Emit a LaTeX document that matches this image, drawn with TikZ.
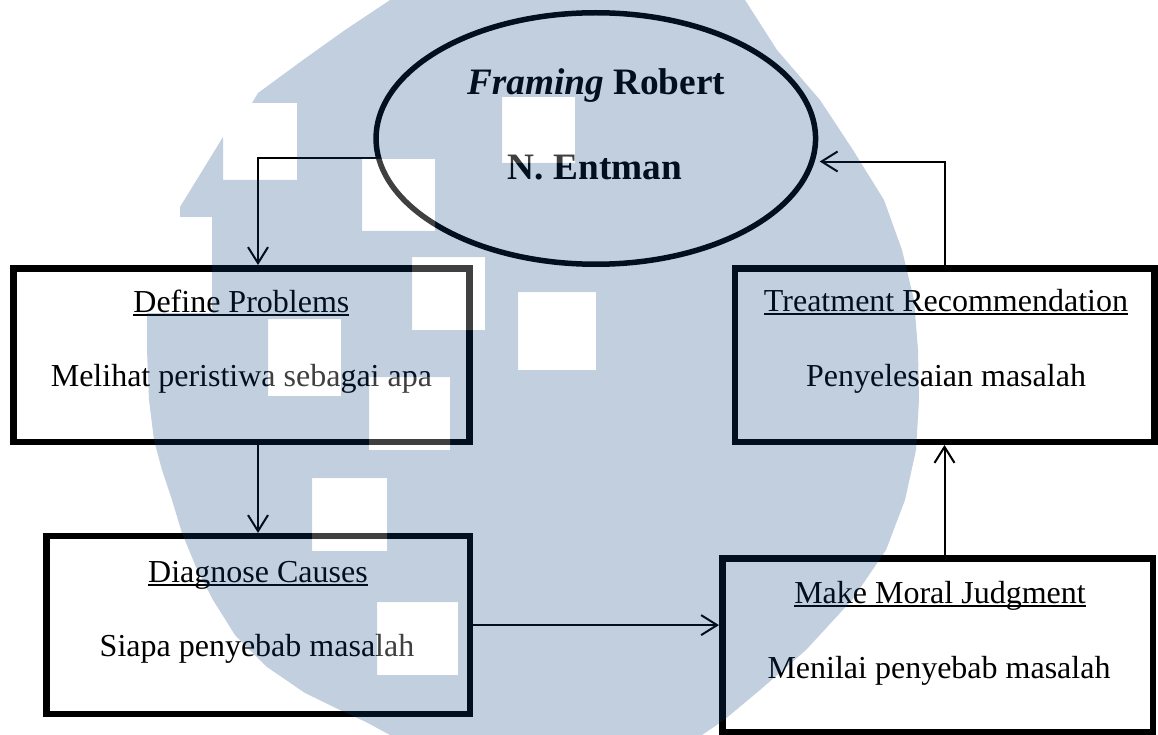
\documentclass[tikz,border=0pt]{standalone}
\usepackage{fontspec}
\setmainfont{Liberation Serif}
\usetikzlibrary{arrows.meta,shapes.geometric,positioning}
\definecolor{wmblue}{RGB}{7,63,123}
\newsavebox\undersave
\newcommand\undertext[1]{\sbox\undersave{#1}\rlap{\rule[-3.5pt]{\wd\undersave}{2pt}}\usebox\undersave}
\tikzset{
>={Straight Barb[length=16pt,width=20pt]},
  frame/.style={
    ellipse,
    draw, line width=5.5pt,
    minimum width=439.5pt,
    minimum height=251.5pt,
    inner sep=0pt},
  stage/.style={
    rectangle,
    draw, line width=6.5pt,
    inner sep=0pt},
  frametext/.style={anchor=base, inner sep=0pt, font=\fontsize{37.3}{44}\selectfont\bfseries},
  stagetext/.style={anchor=base, inner sep=0pt, font=\fontsize{32}{38}\selectfont},
  line/.style={draw, line width=2pt, ->},
  watermark/.style={fill=wmblue, opacity=0.25, even odd rule},
}
\begin{document}
\begin{tikzpicture}[x=1pt,y=-1pt]
	\useasboundingbox (0,0) rectangle (1158,735);

	% framing model
	\node [frame] (entman) at (595.8,138.5) {};
	\node [frametext] (entmanA) at (596,95) {\textit{Framing} Robert};
	\node [frametext] (entmanB) at (595,180) {N. Entman};

	% the four functions
	\node [stage, minimum width=456.2pt, minimum height=173.5pt] (define) at (241.4,355) {};
	\node [stagetext] (defineA) at (241.4,312) {\undertext{Define Problems}};
	\node [stagetext] (defineB) at (241.4,386) {Melihat peristiwa sebagai apa};

	\node [stage, minimum width=423.5pt, minimum height=177.8pt] (diagnose) at (258,625.1) {};
	\node [stagetext] (diagnoseA) at (258,582) {\undertext{Diagnose Causes}};
	\node [stagetext] (diagnoseB) at (257,656) {Siapa penyebab masalah};

	\node [stage, minimum width=430.5pt, minimum height=173.5pt] (moral) at (937.5,645) {};
	\node [stagetext] (moralA) at (940,603) {\undertext{Make Moral Judgment}};
	\node [stagetext] (moralB) at (939,678) {Menilai penyebab masalah};

	\node [stage, minimum width=419.5pt, minimum height=173.5pt] (treatment) at (944.5,355) {};
	\node [stagetext] (treatmentA) at (946,311) {\undertext{Treatment Recommendation}};
	\node [stagetext] (treatmentB) at (946,386) {Penyelesaian masalah};

	% connectors
	\path [line] (entman.185.6) -| (define.north -| diagnose.north);
	\path [line] (define.south -| diagnose.north) -- (diagnose.north);
	\path [line] (diagnose.east) -- (diagnose.east -| moral.west);
	\path [line] (moral.north -| treatment.south) -- (treatment.south);
	\path [line, shorten >=5pt] (treatment.north) |- (entman.354.4);

	% watermark
	\fill [watermark] (390,0) -- (745,0) -- (777,50) -- (820,100) -- (853,150) -- (884,200)
		-- (902,250) -- (914,300) -- (918,350) -- (919,400) -- (916,450) -- (905,500)
		-- (886,550) -- (852,600) -- (806,650) -- (760,690) -- (724,720) -- (702,735)
		-- (390,735) -- (366,722) -- (340,710) -- (305,693) -- (267,667) -- (235,635)
		-- (213,600) -- (196,567) -- (182,533) -- (172,500) -- (162,470) -- (154,440)
		-- (149,400) -- (147,350) -- (147,313) -- (212,313) -- (212,217) -- (180,217)
		-- (180,207) -- (223,137) -- (223,180) -- (297,180) -- (297,103) -- (252,103)
		-- (258,93) -- (303,60) -- (345,30) -- cycle
		(502,97) rectangle (575,163)
		(362,159) rectangle (435,231)
		(412,257) rectangle (485,330)
		(518,292) rectangle (596,370)
		(369,377) rectangle (450,450)
		(312,478) rectangle (387,551)
		(377,602) rectangle (458,675)
		(268,319) rectangle (341,396);
	\fill [white, opacity=0.25]
		(502,97) rectangle (575,163)
		(362,159) rectangle (435,231)
		(412,257) rectangle (485,330)
		(518,292) rectangle (596,370)
		(369,377) rectangle (450,450)
		(312,478) rectangle (387,551)
		(377,602) rectangle (458,675)
		(268,319) rectangle (341,396);
\end{tikzpicture}
\end{document}
